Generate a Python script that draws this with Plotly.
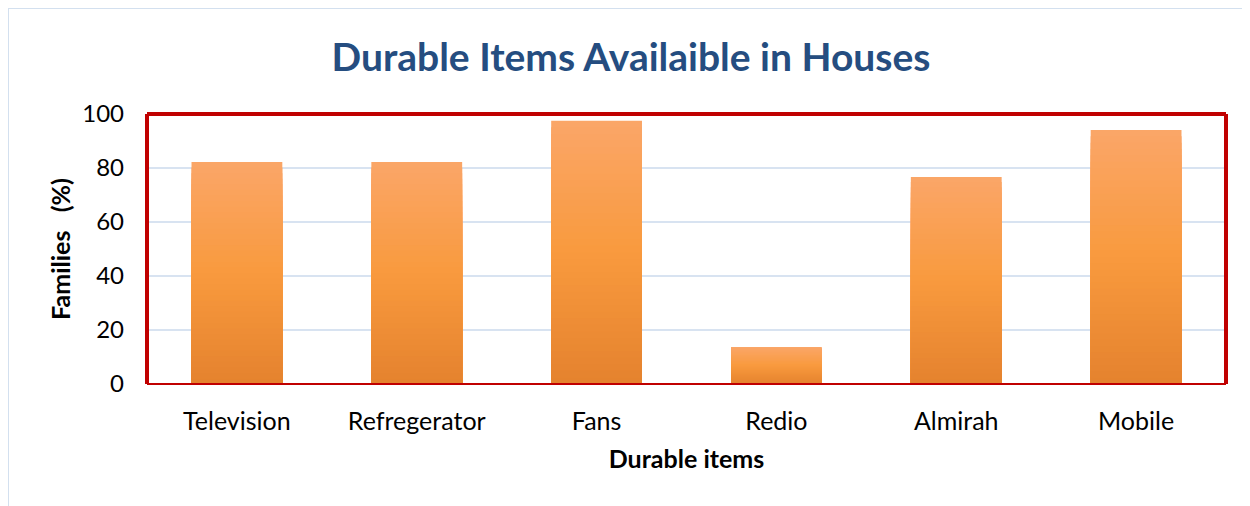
import plotly.graph_objects as go

categories = ["Television", "Refregerator", "Fans", "Redio", "Almirah", "Mobile"]
values = [82.2, 82.2, 97.5, 13.7, 76.7, 94.1]
y_ticks = [0, 20, 40, 60, 80, 100]

title_text = "Durable Items Availaible in Houses"
x_title = "Durable items"
y_title = "Families   (%)"

# page body has an 8px margin, so the figure starts at (8, 8)
OFF = 8
W, H = 1250 - OFF, 506 - OFF
L, R, T, B = 147 - OFF, 24, 114 - OFF, 122

# gradient stops (top -> bottom)
stops = [(0.0, (250, 166, 104)), (0.5, (249, 154, 62)), (1.0, (228, 130, 46))]


def grad(t):
    for (t0, c0), (t1, c1) in zip(stops[:-1], stops[1:]):
        if t <= t1:
            f = (t - t0) / (t1 - t0)
            return "rgb(%d,%d,%d)" % tuple(round(a + (b - a) * f) for a, b in zip(c0, c1))
    return "rgb(%d,%d,%d)" % stops[-1][1]


N = 40
fig = go.Figure()
for k in range(N):
    frac = 1 - k / N
    fig.add_trace(go.Bar(
        x=categories,
        y=[v * frac for v in values],
        marker=dict(color=grad((k + 0.5) / N), line=dict(width=0)),
        showlegend=False,
        hoverinfo="skip",
    ))

font = "Lato, 'Open Sans', sans-serif"
pw = W - L - R
ph = H - T - B

fig.update_layout(
    width=W, height=H,
    margin=dict(l=L, r=R, t=T, b=B),
    barmode="overlay",
    bargap=0.495,
    paper_bgcolor="white",
    plot_bgcolor="white",
    font=dict(family=font, color="#000000", size=25),
    title=dict(text="<b>" + title_text + "</b>", xref="container", x=(631 - OFF) / W,
               xanchor="center", yref="container", y=1 - (57 - OFF) / H, yanchor="middle",
               font=dict(family=font, size=39, color="#254D80")),
    xaxis=dict(showgrid=False, showline=False, ticks="", zeroline=False,
               tickfont=dict(size=25), ticklabelstandoff=20,
               title=dict(text="<b>" + x_title + "</b>", font=dict(size=25), standoff=16)),
    yaxis=dict(range=[0, 100], tickvals=y_ticks, showgrid=True, gridcolor="#D8E3F1",
               gridwidth=2, zeroline=False, showline=False, ticks="",
               tickfont=dict(size=24), ticklabelstandoff=22,
               title=dict(text="<b>" + y_title + "</b>", font=dict(size=25), standoff=4)),
)

# outer chart border (light)
bx0 = (0 - L) / pw
by1 = (H - B) / ph
fig.add_shape(type="line", xref="paper", yref="paper", x0=bx0, x1=bx0, y0=-1, y1=by1,
              line=dict(color="#D3E0EF", width=2))
fig.add_shape(type="line", xref="paper", yref="paper", x0=bx0, x1=2, y0=by1, y1=by1,
              line=dict(color="#D3E0EF", width=2))

red = "#C00000"
fig.add_shape(type="line", xref="paper", yref="paper", x0=0, x1=1, y0=1, y1=1,
              line=dict(color=red, width=4))
fig.add_shape(type="line", xref="paper", yref="paper", x0=0, x1=0, y0=0, y1=1,
              line=dict(color=red, width=4))
fig.add_shape(type="line", xref="paper", yref="paper", x0=1, x1=1, y0=0, y1=1,
              line=dict(color=red, width=4))
fig.add_shape(type="line", xref="paper", yref="paper", x0=0, x1=1, y0=0, y1=0,
              line=dict(color=red, width=2))

fig.write_html("out.html")
